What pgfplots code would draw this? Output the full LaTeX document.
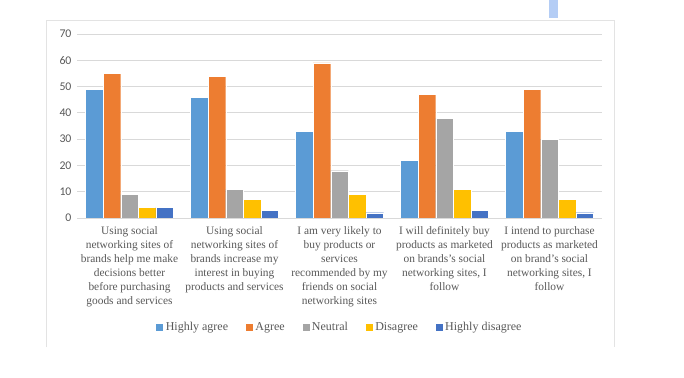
\documentclass[border=0pt]{standalone}
\usepackage{fontspec}
\setmainfont{Liberation Serif}
\newfontfamily\carlito{Carlito}
\usepackage{pgfplots}
\pgfplotsset{compat=1.18}
\definecolor{cA}{HTML}{5B9BD5}
\definecolor{cB}{HTML}{ED7D31}
\definecolor{cC}{HTML}{A5A5A5}
\definecolor{cD}{HTML}{FFC000}
\definecolor{cE}{HTML}{4472C4}
\definecolor{txt}{HTML}{595959}
\definecolor{gridc}{HTML}{D9D9D9}
\definecolor{frame}{HTML}{E3E3E3}
\definecolor{stray}{HTML}{B4CDF5}
\begin{document}
\begin{tikzpicture}[x=1pt,y=1pt]
\useasboundingbox[fill=white] (0,0) rectangle (684,377);
\fill[stray] (549,359) rectangle (558,377);
\draw[frame, line width=0.8pt] (46,30) -- (46,357) -- (614,357) -- (614,30);
\begin{axis}[
  at={(77pt,159pt)}, anchor=south west,
  scale only axis, width=525pt, height=184pt,
  ybar=0pt, bar width=17.6pt,
  xmin=-0.5, xmax=4.5, ymin=0, ymax=70,
  ytick={0,10,...,70},
  xtick={0,1,2,3,4},
  xticklabels={
    {Using social\\networking sites of\\brands help me make\\decisions better\\before purchasing\\goods and services},
    {Using social\\networking sites of\\brands increase my\\interest in buying\\products and services},
    {I am very likely to\\buy products or\\services\\recommended by my\\friends on social\\networking sites},
    {I will definitely buy\\products as marketed\\on brands’s social\\networking sites, I\\follow},
    {I intend to purchase\\products as marketed\\on brand’s social\\networking sites, I\\follow}},
  xticklabel style={align=center, font=\rmfamily\fontsize{11.4}{14}\selectfont, text=txt, yshift=-5pt},
  yticklabel style={font=\carlito\fontsize{11.8}{13}\selectfont, text=txt, xshift=-2pt},
  /pgf/number format/assume math mode=true,
  major tick length=0pt,
  axis line style={draw=none},
  ymajorgrids, grid style={gridc, line width=0.9pt},
  legend style={at={(0.5,-0.592)}, anchor=center, draw=none, fill=none,
    legend columns=5, font=\rmfamily\fontsize{12}{13}\selectfont, text=txt,
    /tikz/every even column/.append style={column sep=15pt}},
  legend image code/.code={\fill[#1] (0pt,-4pt) rectangle (8pt,4pt);},
  legend cell align=left,
]
\addplot[fill=cA, draw=white, line width=0.3pt] coordinates {(0,49) (1,46) (2,33) (3,22) (4,33)};
\addplot[fill=cB, draw=white, line width=0.3pt] coordinates {(0,55) (1,54) (2,59) (3,47) (4,49)};
\addplot[fill=cC, draw=white, line width=0.3pt] coordinates {(0,9) (1,11) (2,18) (3,38) (4,30)};
\addplot[fill=cD, draw=white, line width=0.3pt] coordinates {(0,4) (1,7) (2,9) (3,11) (4,7)};
\addplot[fill=cE, draw=white, line width=0.3pt] coordinates {(0,4) (1,3) (2,2) (3,3) (4,2)};
\legend{Highly agree, Agree, Neutral, Disagree, Highly disagree}
\end{axis}
\end{tikzpicture}
\end{document}
